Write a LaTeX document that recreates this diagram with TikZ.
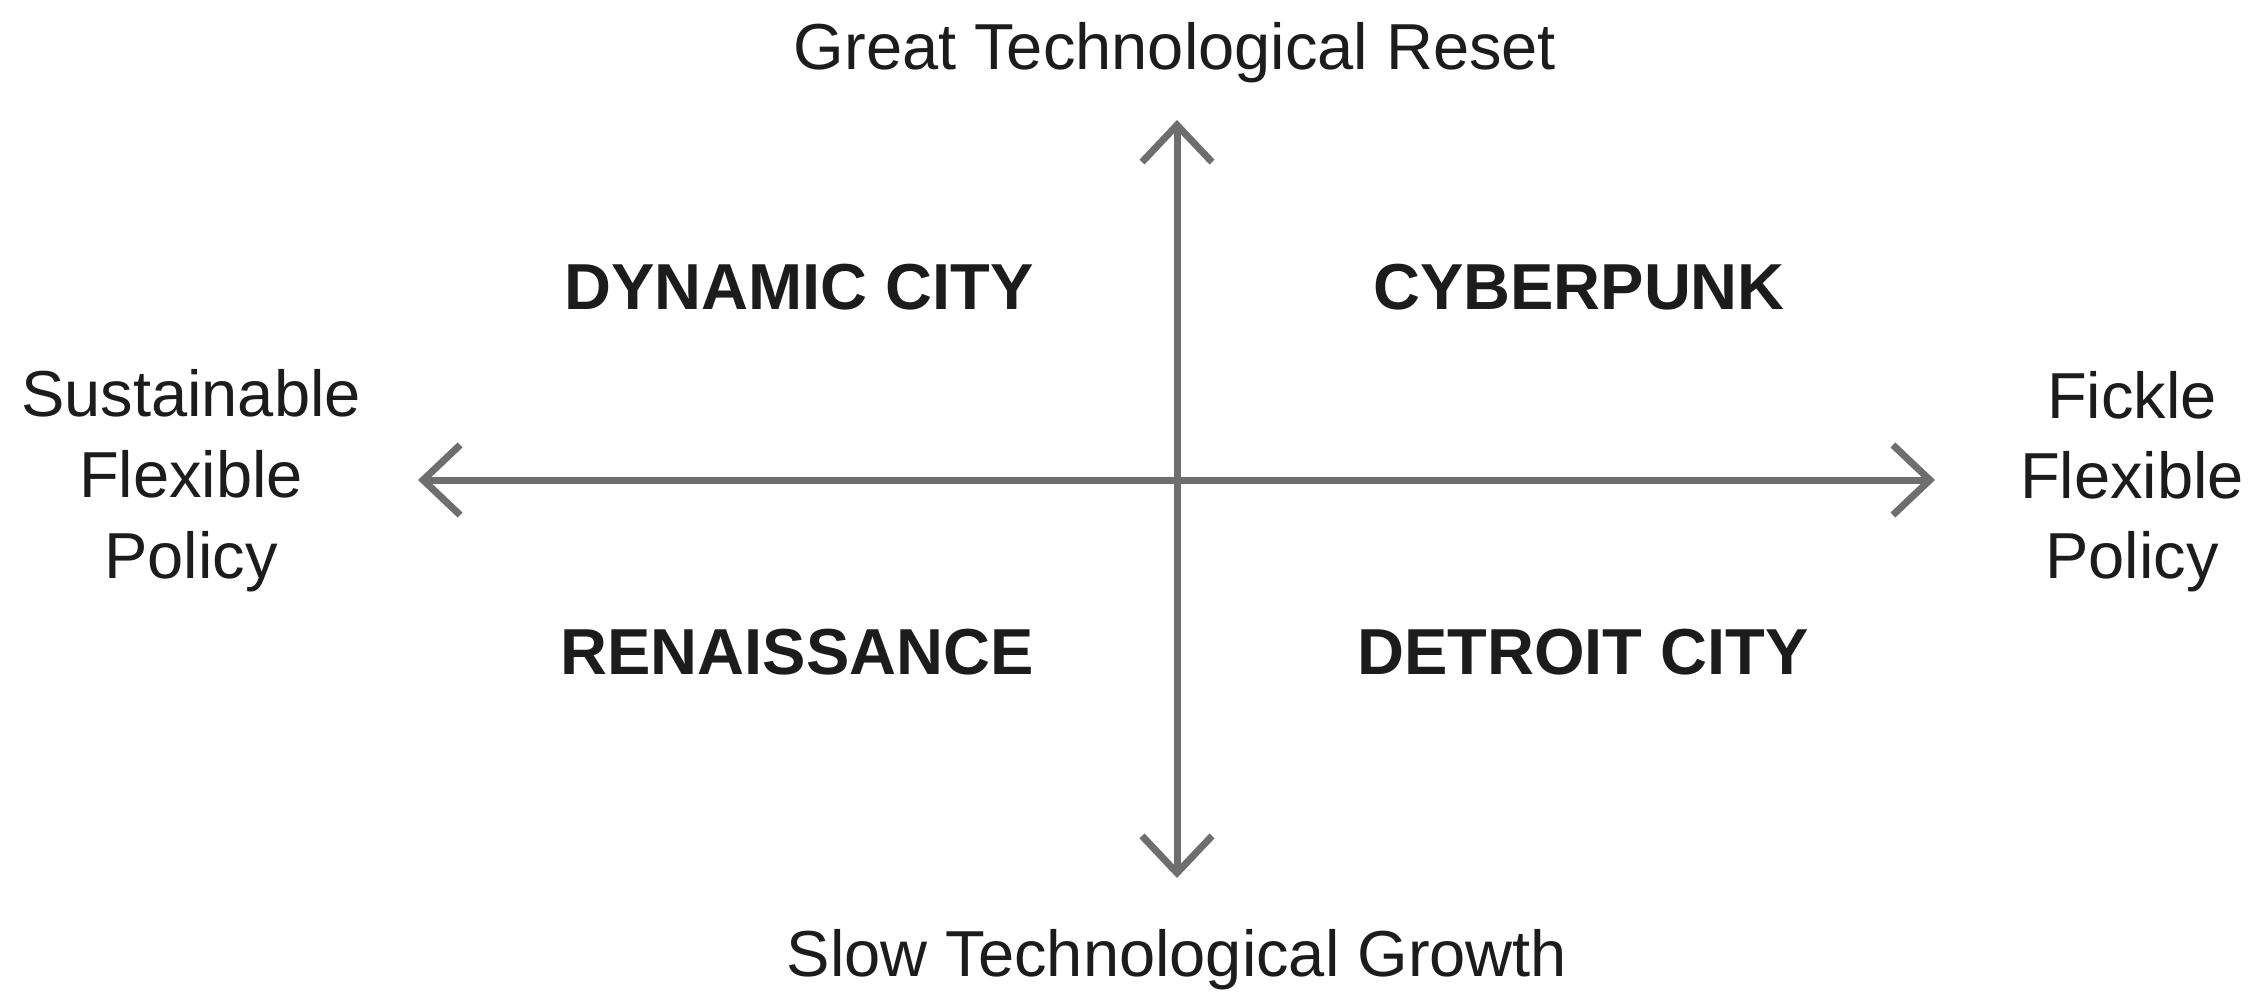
\documentclass[tikz,border=0pt]{standalone}
\usepackage{fontspec}
\setmainfont{Liberation Sans}
\usetikzlibrary{arrows.meta}
\definecolor{axisgray}{HTML}{6E6E6E}
\definecolor{txt}{HTML}{1C1C1C}
\begin{document}
\begin{tikzpicture}[x=1pt,y=-1pt,
  lbl/.style={inner sep=0pt,anchor=base,text=txt,font=\fontsize{65}{80}\selectfont},
  quad/.style={lbl,font=\fontsize{65}{80}\selectfont\bfseries},
  axis/.style={draw=axisgray,line width=7pt,
    {Straight Barb[length=37pt,width=70pt,sharp]}-{Straight Barb[length=37pt,width=70pt,sharp]}}]
\useasboundingbox[fill=white] (0,0) rectangle (2257,1008);
% axis end points
\coordinate (top) at (1177,120);
\coordinate (bot) at (1177,878);
\coordinate (lft) at (418,480);
\coordinate (rgt) at (1935,480);
\draw[axis] (bot) -- (top);
\draw[axis] (lft) -- (rgt);
% axis labels
\node[lbl] (tl) at (1175,70) {Great Technological Reset};
\node[lbl] (bl) at (1177,976) {Slow Technological Growth};
\node[lbl] (l1) at (191,416) {Sustainable};
\node[lbl] (l2) at (191,497) {Flexible};
\node[lbl] (l3) at (191,578) {Policy};
\node[lbl] (r1) at (2132,418) {Fickle};
\node[lbl] (r2) at (2132,498) {Flexible};
\node[lbl] (r3) at (2132,578) {Policy};
% quadrant labels
\node[quad] (q1) at (799,310) {DYNAMIC CITY};
\node[quad] (q2) at (1579,310) {CYBERPUNK};
\node[quad] (q3) at (797,674) {RENAISSANCE};
\node[quad] (q4) at (1583,674) {DETROIT CITY};
\end{tikzpicture}
\end{document}
